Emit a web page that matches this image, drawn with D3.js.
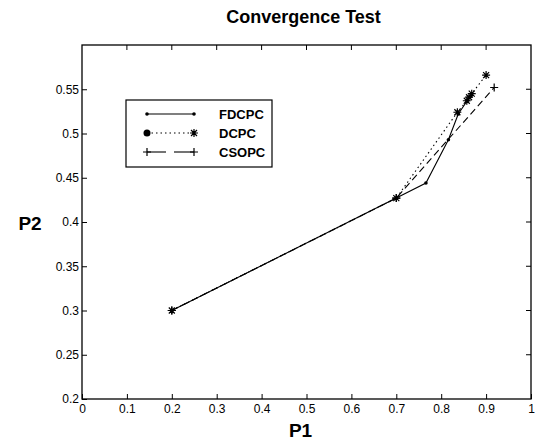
<!DOCTYPE html>
<html>
<head>
<meta charset="utf-8">
<script src="https://cdn.jsdelivr.net/npm/d3@7"></script>
<style>
  body { margin: 0; background: #fff; }
  text { font-family: "Liberation Sans", Arial, sans-serif; fill: #000; }
</style>
</head>
<body>
<div id="chart"></div>
<script>
// data
var series_names = ["FDCPC", "DCPC", "CSOPC"];
var fdcpc_p1 = [0.2, 0.70, 0.766, 0.816, 0.838, 0.858, 0.865];
var fdcpc_p2 = [0.3, 0.427, 0.444, 0.493, 0.522, 0.537, 0.542];
var dcpc_p1 = [0.2, 0.70, 0.836, 0.857, 0.862, 0.868, 0.90];
var dcpc_p2 = [0.3, 0.427, 0.524, 0.537, 0.541, 0.545, 0.566];
var csopc_p1 = [0.2, 0.70, 0.918];
var csopc_p2 = [0.3, 0.427, 0.552];
var x_ticks = [0, 0.1, 0.2, 0.3, 0.4, 0.5, 0.6, 0.7, 0.8, 0.9, 1];
var y_ticks = [0.2, 0.25, 0.3, 0.35, 0.4, 0.45, 0.5, 0.55];

var width = 539,
    height = 440,
    margin = {top: 45, right: 8, bottom: 41, left: 82};

var svg = d3.select("#chart").append("svg")
    .attr("width", width)
    .attr("height", height);

var x = d3.scaleLinear().domain([0, 1]).range([margin.left, width - margin.right]);
var y = d3.scaleLinear().domain([0.2, 0.6]).range([height - margin.bottom, margin.top]);

function zip(a, b) {
  return a.map(function(d, i) { return [d, b[i]]; });
}

var series = [
  {name: series_names[0], pts: zip(fdcpc_p1, fdcpc_p2), dash: null, marker: "dot"},
  {name: series_names[1], pts: zip(dcpc_p1, dcpc_p2), dash: "1.5,3", marker: "star"},
  {name: series_names[2], pts: zip(csopc_p1, csopc_p2), dash: "7,4", marker: "plus"}
];

// frame with inward ticks (matlab style)
var g = svg.append("g");
g.append("rect")
  .attr("x", x(0)).attr("y", y(0.6))
  .attr("width", x(1) - x(0)).attr("height", y(0.2) - y(0.6))
  .attr("fill", "none").attr("stroke", "#000").attr("stroke-width", 1.3);

var xAxis = d3.axisBottom(x).tickValues(x_ticks).tickSizeInner(-5).tickSizeOuter(0)
    .tickFormat(function(d) { return d3.format("")(d); });
var yAxis = d3.axisLeft(y).tickValues(y_ticks).tickSizeInner(-5).tickSizeOuter(0)
    .tickFormat(function(d) { return d3.format("")(d); });

var gx = svg.append("g").attr("transform", "translate(0," + y(0.2) + ")").call(xAxis);
var gy = svg.append("g").attr("transform", "translate(" + x(0) + ",0)").call(yAxis);
[gx, gy].forEach(function(a) {
  a.select(".domain").remove();
  a.selectAll("line").attr("stroke", "#000");
  a.selectAll("text").style("font-size", "12px").attr("fill", "#000");
});
gx.selectAll("text").attr("dy", "0.95em").attr("y", 3);
gy.selectAll("text").attr("x", -3);

// ticks on top and right
svg.append("g").selectAll("line").data(x_ticks.slice(1, -1)).enter().append("line")
  .attr("x1", function(d) { return x(d); }).attr("x2", function(d) { return x(d); })
  .attr("y1", y(0.6)).attr("y2", y(0.6) + 5).attr("stroke", "#000");
svg.append("g").selectAll("line").data(y_ticks.slice(1)).enter().append("line")
  .attr("x1", x(1)).attr("x2", x(1) - 5)
  .attr("y1", function(d) { return y(d); }).attr("y2", function(d) { return y(d); })
  .attr("stroke", "#000");

function drawMarker(sel, type, cx, cy, big) {
  if (type == "dot") {
    sel.append("circle").attr("cx", cx).attr("cy", cy).attr("r", big ? 3.5 : 1.8).attr("fill", "#000");
  } else {
    var s = 4;
    var p = "M" + (cx - s) + "," + cy + "L" + (cx + s) + "," + cy +
            "M" + cx + "," + (cy - s) + "L" + cx + "," + (cy + s);
    if (type == "star") {
      var t = s * 0.75;
      p += "M" + (cx - t) + "," + (cy - t) + "L" + (cx + t) + "," + (cy + t) +
           "M" + (cx - t) + "," + (cy + t) + "L" + (cx + t) + "," + (cy - t);
    }
    sel.append("path").attr("d", p).attr("stroke", "#000").attr("stroke-width", 1.2).attr("fill", "none");
  }
}

var line = d3.line().x(function(d) { return x(d[0]); }).y(function(d) { return y(d[1]); });

series.forEach(function(s) {
  svg.append("path")
    .datum(s.pts)
    .attr("d", line)
    .attr("fill", "none")
    .attr("stroke", "#000")
    .attr("stroke-width", 1.1)
    .attr("stroke-dasharray", s.dash);
  var mg = svg.append("g");
  s.pts.forEach(function(p) {
    drawMarker(mg, s.marker, x(p[0]), y(p[1]), false);
  });
});

// title and axis labels
svg.append("text").attr("x", (x(0) + x(1)) / 2 - 3).attr("y", 23)
  .attr("text-anchor", "middle").style("font-size", "18px").style("font-weight", "bold")
  .text("Convergence Test");
svg.append("text").attr("x", (x(0) + x(1)) / 2 - 6).attr("y", 437)
  .attr("text-anchor", "middle").style("font-size", "19px").style("font-weight", "bold")
  .text("P1");
svg.append("text").attr("x", 30).attr("y", 230)
  .attr("text-anchor", "middle").style("font-size", "19px").style("font-weight", "bold")
  .text("P2");

// legend
var lg = svg.append("g");
lg.append("rect").attr("x", 126).attr("y", 100).attr("width", 146).attr("height", 67)
  .attr("fill", "#fff").attr("stroke", "#000").attr("stroke-width", 1.2);
var legendMarkers = [["dot", "dot"], ["bigdot", "star"], ["plus", "plus"]];
series.forEach(function(s, i) {
  var ly = 114 + i * 19;
  var seg = s.name == "CSOPC" ? [[147, 166], [174, 194]] : [[147, 194]];
  seg.forEach(function(sg) {
    lg.append("line").attr("x1", sg[0]).attr("x2", sg[1]).attr("y1", ly).attr("y2", ly)
      .attr("stroke", "#000").attr("stroke-width", 1.1).attr("stroke-dasharray", s.name == "CSOPC" ? null : s.dash);
  });
  var m = legendMarkers[i];
  drawMarker(lg, m[0] == "bigdot" ? "dot" : m[0], 147, ly, m[0] == "bigdot");
  drawMarker(lg, m[1], 194, ly, false);
  lg.append("text").attr("x", 219).attr("y", ly + 5)
    .style("font-size", "13px").style("font-weight", "bold")
    .text(s.name);
});
</script>
</body>
</html>
